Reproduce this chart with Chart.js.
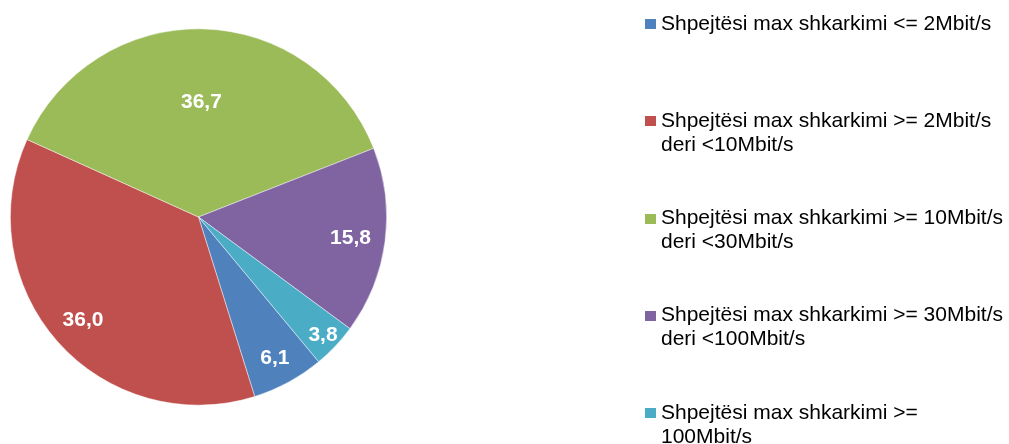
<!DOCTYPE html>
<html>
<head>
<meta charset="utf-8">
<script src="https://cdn.jsdelivr.net/npm/chart.js@4.4.1/dist/chart.umd.min.js"></script>
<style>
  html, body { margin: 0; padding: 0; background: #fff; }
  #wrap { position: relative; width: 1009px; height: 444px; overflow: hidden; }
  #pie { position: absolute; left: 0; top: 0; }
  #legend { position: absolute; left: 645px; top: 0; font-family: "Liberation Sans", Arial, sans-serif; font-size: 21px; line-height: 24px; color: #000; }
  .item { position: absolute; left: 0; white-space: nowrap; }
  .box { position: absolute; left: 0; top: 8.6px; width: 10.7px; height: 10px; }
  .txt { position: absolute; left: 16px; top: 0; }
</style>
</head>
<body>
<div id="wrap">
  <canvas id="pie" width="1009" height="444"></canvas>
  <div id="legend"></div>
</div>
<script>
// categories (legend lines), values, colours
const categories = [
  ['Shpejtësi max shkarkimi <= 2Mbit/s'],
  ['Shpejtësi max shkarkimi >= 2Mbit/s', 'deri <10Mbit/s'],
  ['Shpejtësi max shkarkimi >= 10Mbit/s', 'deri <30Mbit/s'],
  ['Shpejtësi max shkarkimi >= 30Mbit/s', 'deri <100Mbit/s'],
  ['Shpejtësi max shkarkimi >=', '100Mbit/s']
];
const values = [6.1, 36.0, 36.7, 15.8, 3.8];
const colors = ['#4F81BD', '#C0504D', '#9BBB59', '#8064A2', '#4BACC6'];
// radial position of each value label, as a share of the radius
const labelRadius = [0.85, 0.82, 0.615, 0.815, 0.91];

const pieLabels = {
  id: 'pieLabels',
  afterDatasetsDraw(chart) {
    const ctx = chart.ctx;
    const meta = chart.getDatasetMeta(0);
    ctx.save();
    ctx.font = 'bold 21px "Liberation Sans", Arial, sans-serif';
    ctx.fillStyle = '#fff';
    ctx.textAlign = 'center';
    ctx.textBaseline = 'middle';
    meta.data.forEach((arc, i) => {
      const p = arc.getProps(['x', 'y', 'startAngle', 'endAngle', 'outerRadius'], true);
      const mid = (p.startAngle + p.endAngle) / 2;
      const r = p.outerRadius * labelRadius[i];
      ctx.fillText(values[i].toFixed(1).replace('.', ','), p.x + Math.cos(mid) * r, p.y + Math.sin(mid) * r + 1);
    });
    ctx.restore();
  }
};

new Chart(document.getElementById('pie'), {
  type: 'pie',
  data: {
    labels: categories.map((c) => c.join(' ')),
    datasets: [{
      data: values,
      backgroundColor: colors,
      borderColor: 'rgba(255,255,255,0.6)',
      borderWidth: 0.75
    }]
  },
  options: {
    responsive: false,
    animation: false,
    rotation: 140.3,
    layout: { padding: { left: 10, right: 622, top: 28.5, bottom: 38.5 } },
    plugins: { legend: { display: false }, tooltip: { enabled: false } }
  },
  plugins: [pieLabels]
});

const legend = document.getElementById('legend');
categories.forEach((lines, i) => {
  const item = document.createElement('div');
  item.className = 'item';
  item.style.top = (10.7 + i * 97.2) + 'px';
  const box = document.createElement('span');
  box.className = 'box';
  box.style.background = colors[i];
  const txt = document.createElement('span');
  txt.className = 'txt';
  txt.innerHTML = lines.map((l) => l.replace(/&/g, '&amp;').replace(/</g, '&lt;').replace(/>/g, '&gt;')).join('<br>');
  item.appendChild(box);
  item.appendChild(txt);
  legend.appendChild(item);
});
</script>
</body>
</html>
